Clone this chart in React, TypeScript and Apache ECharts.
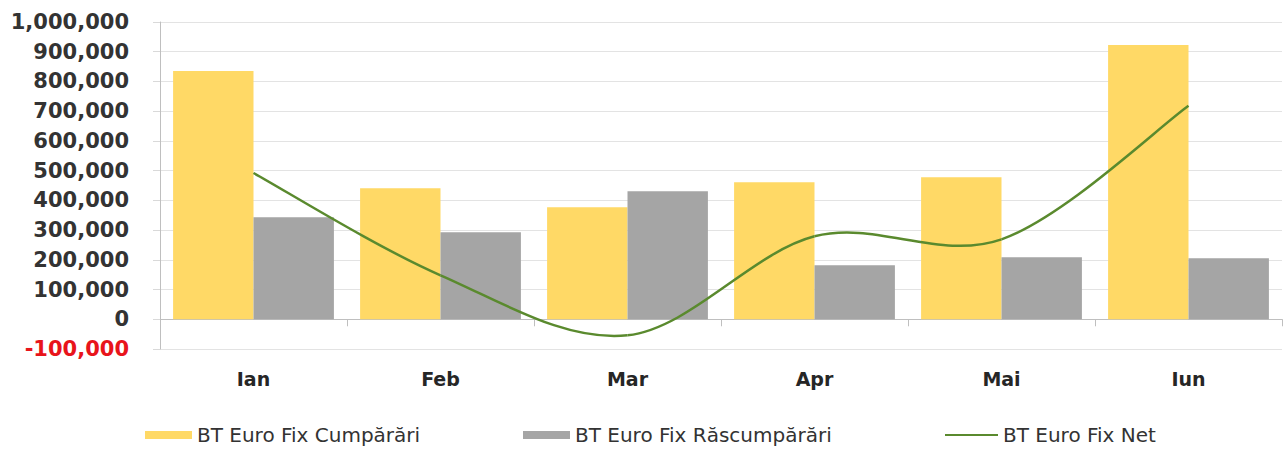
import React, { useEffect, useRef } from "react";
import * as echarts from "echarts";

const categories = ["Ian", "Feb", "Mar", "Apr", "Mai", "Iun"];
const cumparari = [835000, 441000, 377000, 461000, 478000, 923000];
const rascumparari = [343000, 293000, 431000, 182000, 209000, 205000];
const net = [492000, 148000, -54000, 279000, 269000, 718000];
const seriesNames = ["BT Euro Fix Cumpărări", "BT Euro Fix Răscumpărări", "BT Euro Fix Net"];

const fmt = (v: number) => v.toLocaleString("en-US");
const LINE_COLOR = "#5A8A2E";

export default function App() {
  const ref = useRef<HTMLDivElement>(null);
  useEffect(() => {
    if (!ref.current) return;
    const chart = echarts.init(ref.current, undefined, { renderer: "svg" });
    const legendText = { fontSize: 20, color: "#333", fontFamily: "DejaVu Sans" };
    const legendBase = { top: 420, itemWidth: 47, itemHeight: 8, itemGap: 0, textStyle: legendText };
    chart.setOption({
      animation: false,
      textStyle: { fontFamily: "DejaVu Sans" },
      grid: { left: 160, right: 1, top: 22, bottom: 100, containLabel: false },
      legend: [
        { ...legendBase, left: 140, data: [{ name: seriesNames[0], icon: "rect" }] },
        { ...legendBase, left: 518, data: [{ name: seriesNames[1], icon: "rect" }] },
        {
          ...legendBase,
          left: 940,
          itemWidth: 53,
          data: [{ name: seriesNames[2], icon: "path://M0,0H53V2.2H0Z" }],
        },
      ],
      xAxis: [
        {
          type: "category",
          data: categories,
          position: "bottom",
          axisLine: { show: false, onZero: false },
          axisTick: { show: false },
          axisLabel: { margin: 20, fontSize: 19, fontWeight: "bold", color: "#262626" },
        },
        {
          type: "category",
          data: categories,
          position: "bottom",
          axisLine: { show: true, onZero: true, onZeroAxisIndex: 0, lineStyle: { color: "#BFBFBF", width: 1 } },
          axisTick: { show: true, length: 7, lineStyle: { color: "#BFBFBF" } },
          axisLabel: { show: false },
        },
      ],
      yAxis: {
        type: "value",
        min: -100000,
        max: 1000000,
        interval: 100000,
        axisLine: { show: true, onZero: false, lineStyle: { color: "#BFBFBF" } },
        axisTick: { show: true, length: 7, lineStyle: { color: "#D9D9D9" } },
        splitLine: { show: true, lineStyle: { color: "#E3E3E3" } },
        axisLabel: {
          margin: 31,
          fontSize: 21,
          fontWeight: "bold",
          formatter: (v: number) => fmt(v),
          color: (v: any) => (Number(v) < 0 ? "#E8141B" : "#333333"),
        },
      },
      series: [
        {
          name: seriesNames[0],
          type: "bar",
          data: cumparari,
          barGap: "0%",
          barCategoryGap: "14%",
          itemStyle: { color: "#FFD966" },
        },
        {
          name: seriesNames[1],
          type: "bar",
          data: rascumparari,
          itemStyle: { color: "#A5A5A5" },
        },
        {
          name: seriesNames[2],
          type: "custom",
          xAxisIndex: 0,
          data: net.map((v, i) => [i, v]),
          encode: { x: 0, y: 1 },
          itemStyle: { color: LINE_COLOR },
          z: 5,
          renderItem: (params: any, api: any) => {
            const i = params.dataIndex;
            const n = net.length;
            if (i >= n - 1) return { type: "group", children: [] };
            const pt = (k: number) => {
              const kk = Math.max(0, Math.min(n - 1, k));
              return api.coord([kk, net[kk]]);
            };
            const p0 = pt(i - 1);
            const p1 = pt(i);
            const p2 = pt(i + 1);
            const p3 = pt(i + 2);
            return {
              type: "bezierCurve",
              shape: {
                x1: p1[0],
                y1: p1[1],
                cpx1: p1[0] + (p2[0] - p0[0]) / 6,
                cpy1: p1[1] + (p2[1] - p0[1]) / 6,
                cpx2: p2[0] - (p3[0] - p1[0]) / 6,
                cpy2: p2[1] - (p3[1] - p1[1]) / 6,
                x2: p2[0],
                y2: p2[1],
              },
              style: { stroke: LINE_COLOR, lineWidth: 2.5, fill: "none" },
            };
          },
        },
      ],
    });
    return () => chart.dispose();
  }, []);
  return <div ref={ref} style={{ width: 1283, height: 449, position: "absolute", left: 0, top: 0 }} />;
}
